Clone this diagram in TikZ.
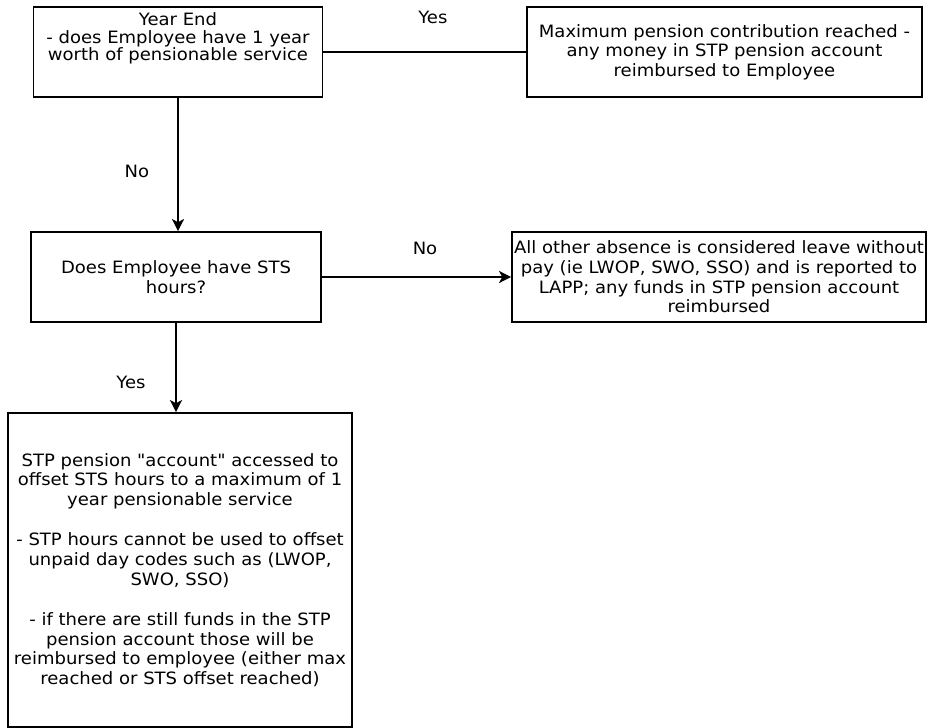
\documentclass[tikz,border=0pt]{standalone}
\usepackage{fontspec}
\setmainfont{DejaVu Sans}[FakeStretch=1.06, Ligatures=TeXOff]
\usetikzlibrary{arrows.meta,positioning}

\begin{document}
\begin{tikzpicture}[x=1pt, y=-1pt,
  box/.style={draw=black, line width=1.7pt, align=center, inner sep=1pt, font=\fontsize{17}{19.6}\selectfont},
  arr/.style={-{Stealth[length=12pt, width=12pt, inset=3pt]}, line width=1.6pt},
  link/.style={line width=1.6pt},
  lbl/.style={font=\fontsize{17}{19.6}\selectfont}
]
\useasboundingbox (0,0) rectangle (927,728);

% Year end check (text sits at the top of the box)
\node[box, minimum width=289pt, minimum height=90pt,
  label={[lbl, align=center, anchor=north, yshift=-3pt, font=\fontsize{17}{17.5}\selectfont]north:{Year End\\- does Employee have 1 year\\worth of pensionable service}}]
  (yearend) at (178,52) {};

% Maximum reached
\node[box, minimum width=395pt, minimum height=90pt] (maxrch) at (724.5,52)
  {Maximum pension contribution reached -\\any money in STP pension account\\reimbursed to Employee};

% STS hours question
\node[box, minimum width=290pt, minimum height=90pt] (stshrs) at (176,277)
  {Does Employee have STS\\hours?};

% Leave without pay
\node[box, minimum width=414pt, minimum height=90pt] (lwop) at (719,277)
  {All other absence is considered leave without\\pay (ie LWOP, SWO, SSO) and is reported to\\LAPP; any funds in STP pension account\\reimbursed};

% STP pension account
\node[box, minimum width=344pt, minimum height=314pt] (stpacc) at (180,570)
  {STP pension "account" accessed to\\offset STS hours to a maximum of 1\\year pensionable service\\[21pt]
   - STP hours cannot be used to offset\\unpaid day codes such as (LWOP,\\SWO, SSO)\\[21pt]
   - if there are still funds in the STP\\pension account those will be\\reimbursed to employee (either max\\reached or STS offset reached)};

% Connectors
\draw[link] (yearend.east |- maxrch.west) -- node[lbl, pos=0.54, yshift=35pt] {Yes} (maxrch.west);
\draw[arr] (yearend.south) -- node[lbl, pos=0.555, xshift=-41pt] {No} (yearend.south |- stshrs.north);
\draw[arr] (stshrs.east) -- node[lbl, pos=0.545, yshift=29pt] {No} (lwop.west);
\draw[arr] (stshrs.south) -- node[lbl, pos=0.67, xshift=-45pt] {Yes} (stshrs.south |- stpacc.north);
\end{tikzpicture}
\end{document}
